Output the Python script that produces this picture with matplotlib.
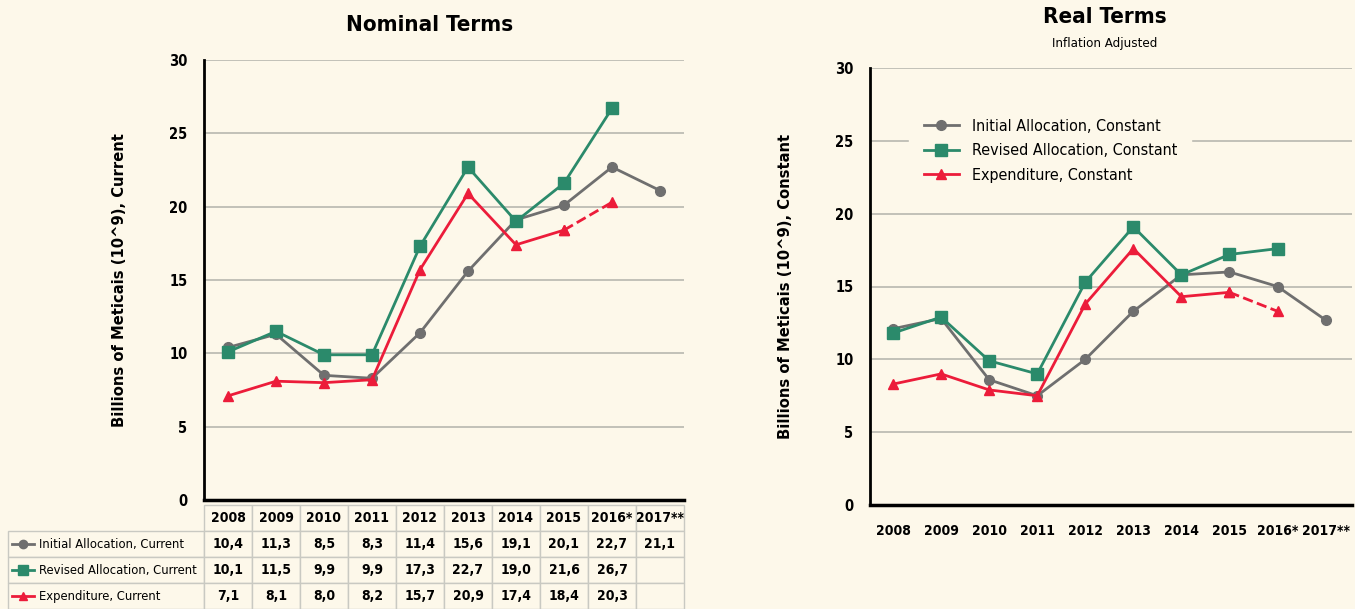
import numpy as np
import matplotlib.pyplot as plt
from matplotlib import font_manager

# Data
years = ['2008', '2009', '2010', '2011', '2012', '2013', '2014', '2015', '2016*', '2017**']
nom_initial = [10.4, 11.3, 8.5, 8.3, 11.4, 15.6, 19.1, 20.1, 22.7, 21.1]
nom_revised = [10.1, 11.5, 9.9, 9.9, 17.3, 22.7, 19.0, 21.6, 26.7]
nom_expend = [7.1, 8.1, 8.0, 8.2, 15.7, 20.9, 17.4, 18.4, 20.3]

real_initial = [12.1, 12.8, 8.6, 7.5, 10.0, 13.3, 15.8, 16.0, 15.0, 12.7]
real_revised = [11.8, 12.9, 9.9, 9.0, 15.3, 19.1, 15.8, 17.2, 17.6]
real_expend = [8.3, 9.0, 7.9, 7.5, 13.8, 17.6, 14.3, 14.6, 13.3]

nom_labels = ['Initial Allocation, Current', 'Revised Allocation, Current', 'Expenditure, Current']
real_labels = ['Initial Allocation, Constant', 'Revised Allocation, Constant', 'Expenditure, Constant']

# Style
BG = '#fdf8ea'
GRAY = '#6f6f6f'
GREEN = '#2b8a6b'
RED = '#ec1c3a'
GRID = '#b8b8b0'


def wnum(w):
    if isinstance(w, int):
        return w
    return font_manager.weight_dict.get(w, 400)


def is_narrow(f):
    if 'Narrow' in f.name or 'Condensed' in f.name:
        return True
    st = f.stretch
    if isinstance(st, int):
        return st < 500
    return 'condensed' in str(st)


# look for a narrow font family that also has a bold face
fams = {}
for f in font_manager.fontManager.ttflist:
    if is_narrow(f):
        key = (f.name, 'normal' if ('Narrow' in f.name or 'Condensed' in f.name) else 'condensed')
        fams.setdefault(key, set()).add(wnum(f.weight))
narrow = None
for key, ws in fams.items():
    if any(w >= 600 for w in ws) and any(w < 600 for w in ws):
        narrow = key
        break

if narrow:
    plt.rcParams['font.family'] = narrow[0]
    plt.rcParams['font.stretch'] = narrow[1]
    k = 1.0
else:
    plt.rcParams['font.family'] = 'DejaVu Sans'
    k = 0.85

fig = plt.figure(figsize=(13.55, 6.09), dpi=100, facecolor=BG)

styles = [
    dict(color=GRAY, marker='o', markersize=7, lw=2),
    dict(color=GREEN, marker='s', markersize=8.5, lw=2),
    dict(color=RED, marker='^', markersize=7, lw=2),
]


def draw_series(ax, init, rev, exp):
    x = np.arange(len(years))
    ax.plot(x[:len(init)], init, zorder=3, **styles[0])
    ax.plot(x[:len(rev)], rev, zorder=4, **styles[1])
    # solid part of expenditure, last segment dashed
    ax.plot(x[:len(exp) - 1], exp[:-1], zorder=5, **styles[2])
    ax.plot(x[len(exp) - 2:len(exp)], exp[-2:], ls='--', zorder=5, **styles[2])


def style_axes(ax):
    ax.set_facecolor(BG)
    ax.set_ylim(0, 30)
    ax.set_yticks([0, 5, 10, 15, 20, 25, 30])
    ax.yaxis.grid(True, color=GRID, lw=1.2)
    ax.set_axisbelow(True)
    for s in ['top', 'right']:
        ax.spines[s].set_visible(False)
    ax.spines['left'].set_linewidth(2)
    ax.spines['bottom'].set_linewidth(2.5)
    ax.tick_params(axis='y', length=0, pad=12, labelsize=10.5 * k)
    for t in ax.get_yticklabels():
        t.set_fontweight('bold')


# Left: nominal terms
ax1 = fig.add_axes([204 / 1355, 1 - 500 / 609, 480 / 1355, 440 / 609])
style_axes(ax1)
draw_series(ax1, nom_initial, nom_revised, nom_expend)
ax1.set_xlim(-0.5, 9.5)
ax1.set_xticks([])
ax1.set_ylabel('Billions of Meticais (10^9), Current', fontsize=11.8 * k, fontweight='bold', labelpad=30)
fig.text(430 / 1355, 1 - 25 / 609, 'Nominal Terms', ha='center', va='center',
         fontsize=16 * k, fontweight='bold')

# Table below left chart
def fmt(v):
    return ('%.1f' % v).replace('.', ',')

rows = [['', *years]]
for lbl, vals in zip(nom_labels, [nom_initial, nom_revised, nom_expend]):
    r = ['        ' + lbl] + [fmt(v) for v in vals] + [''] * (len(years) - len(vals))
    rows.append(r)

label_w = 0.408
tbl = ax1.table(cellText=rows, colWidths=[label_w] + [0.1] * len(years),
                bbox=[-label_w, -0.248, 1 + label_w, 0.236], cellLoc='center')
tbl.auto_set_font_size(False)
for (r, c), cell in tbl.get_celld().items():
    cell.set_facecolor(BG)
    cell.set_edgecolor('#c9c9c2')
    cell.set_linewidth(1)
    txt = cell.get_text()
    txt.set_fontsize(10 * k)
    if c == 0:
        txt.set_ha('left')
        cell.PAD = 0.01
        txt.set_fontsize(9.3 * k)
        if r == 0:
            cell.set_edgecolor(BG)
    else:
        txt.set_fontweight('bold')

# legend icons in the table row labels
row_h = 0.236 / 4
for i, st in enumerate(styles):
    yc = -0.012 - row_h * (i + 1.5)
    ax1.plot([-0.400, -0.355], [yc, yc], transform=ax1.transAxes, clip_on=False,
             color=st['color'], lw=2, zorder=6)
    ax1.plot([-0.3775], [yc], transform=ax1.transAxes, clip_on=False, ls='none',
             color=st['color'], marker=st['marker'], markersize=st['markersize'] - 1, zorder=6)

# Right: real terms
ax2 = fig.add_axes([870 / 1355, 1 - 505 / 609, 482 / 1355, 437 / 609])
style_axes(ax2)
draw_series(ax2, real_initial, real_revised, real_expend)
ax2.set_xlim(-0.48, 9.55)
ax2.set_xticks(np.arange(len(years)))
ax2.set_xticklabels(years, fontsize=10 * k, fontweight='bold')
ax2.tick_params(axis='x', length=0, pad=14)
ax2.set_ylabel('Billions of Meticais (10^9), Constant', fontsize=11.8 * k, fontweight='bold', labelpad=30)
fig.text(1105 / 1355, 1 - 17 / 609, 'Real Terms', ha='center', va='center',
         fontsize=16 * k, fontweight='bold')
fig.text(1105 / 1355, 1 - 44 / 609, 'Inflation Adjusted', ha='center', va='center', fontsize=9.5 * k)

handles = [plt.Line2D([], [], **st) for st in styles]
leg = ax2.legend(handles, real_labels, loc='upper left', bbox_to_anchor=(0.065, 0.935),
                 frameon=True, facecolor=BG, edgecolor=BG, framealpha=1, fontsize=11.5 * k,
                 handlelength=2.2, handletextpad=0.8, borderpad=0.9, labelspacing=0.6)

fig.savefig('out.png', dpi=100, facecolor=BG)
